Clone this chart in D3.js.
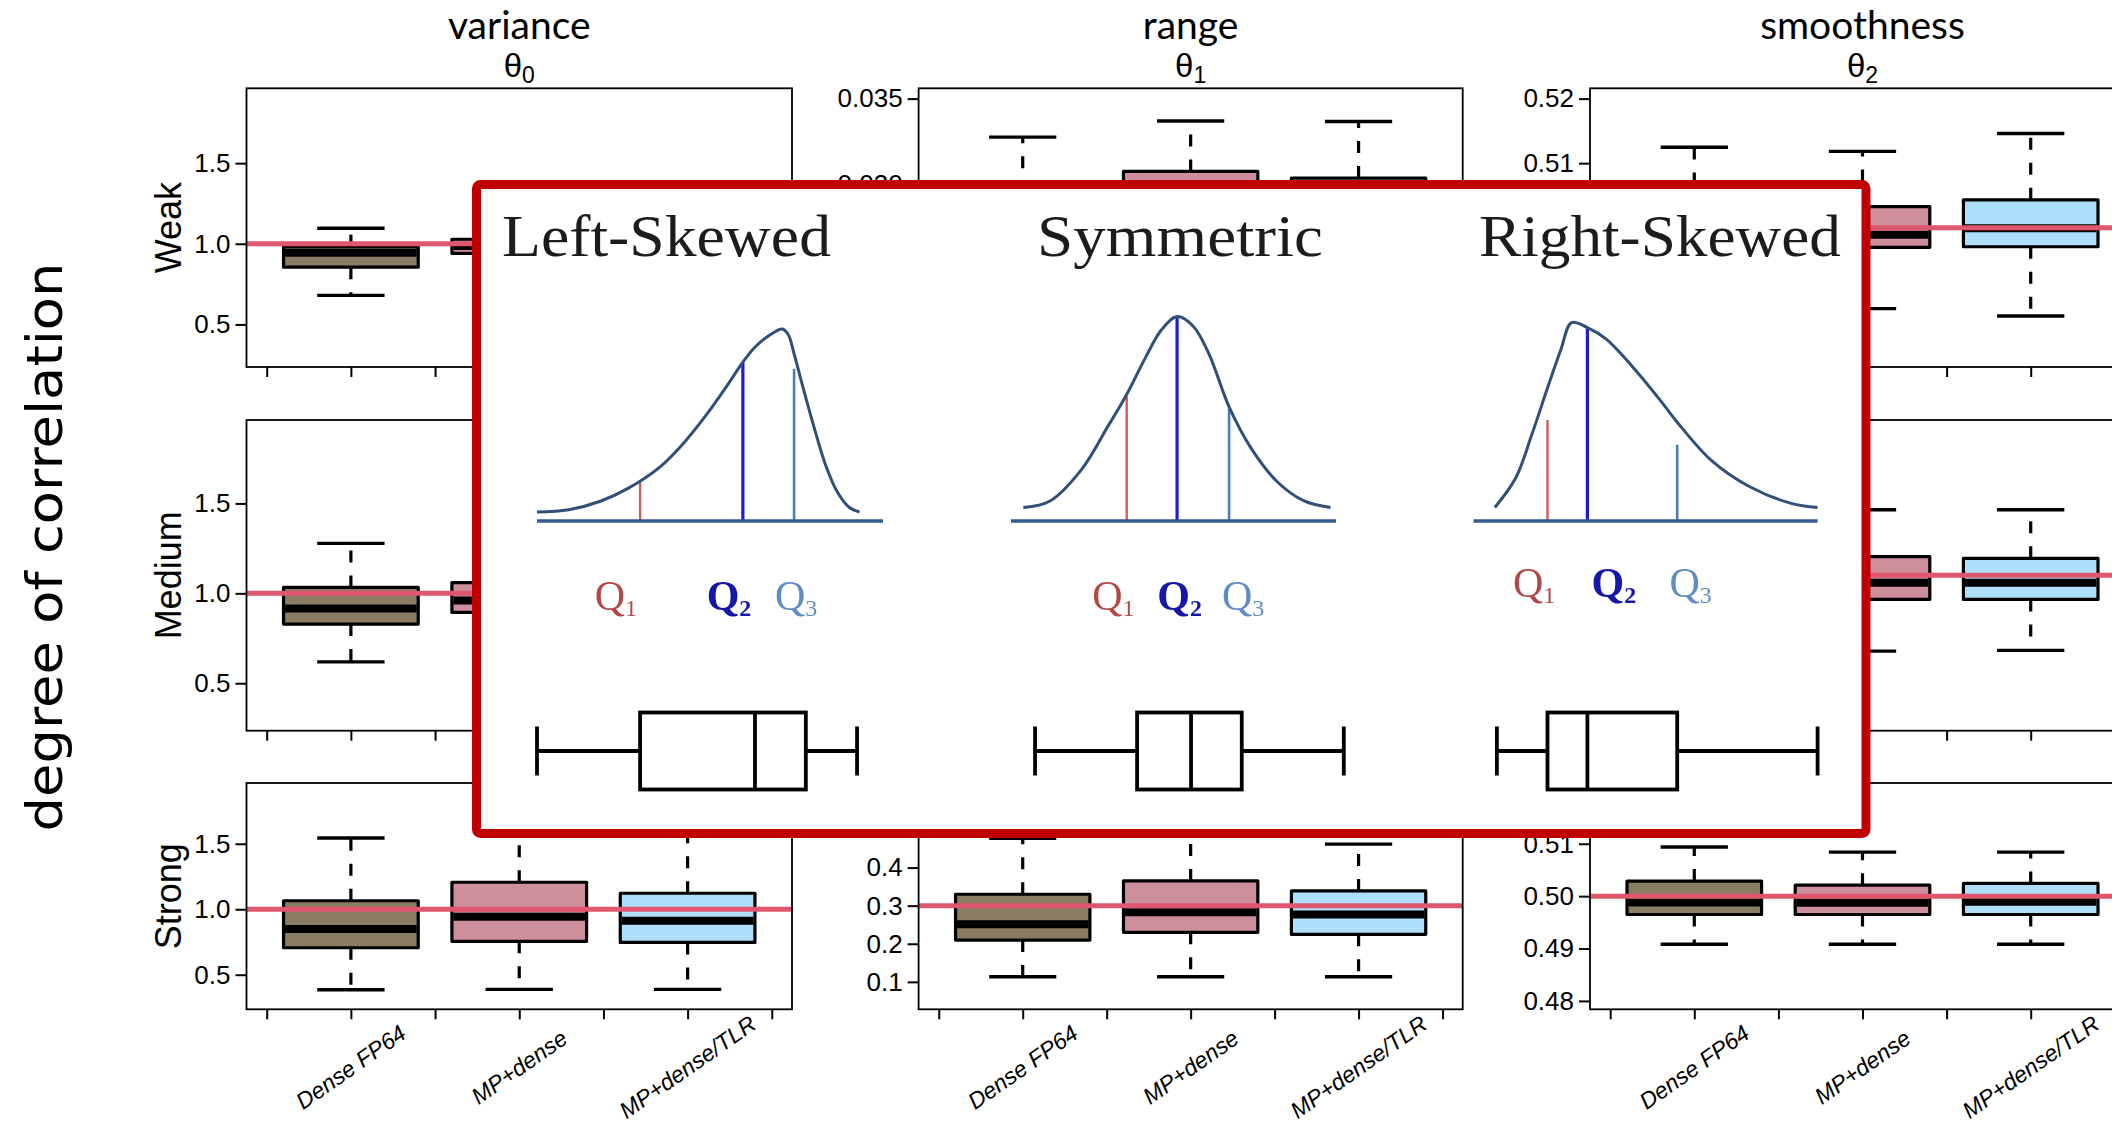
<!DOCTYPE html>
<html>
<head>
<meta charset="utf-8">
<script src="https://cdn.jsdelivr.net/npm/d3@7"></script>
<style>
  html, body { margin: 0; padding: 0; background: #fff; }
  svg { display: block; }
</style>
</head>
<body>
<svg id="chart" width="2112" height="1126"></svg>
<script>
// ---------------------------------------------------------------------------
// Data
// ---------------------------------------------------------------------------
const methods = ["Dense FP64", "MP+dense", "MP+dense/TLR"];
const methodFill = ["#8B7D64", "#CD8F9B", "#ADDFFB"];
const correlationLevels = ["Weak", "Medium", "Strong"];
const parameterNames = ["variance", "range", "smoothness"];
const parameterIndex = ["0", "1", "2"];

// True parameter values (horizontal reference lines), one per correlation level
const trueVariance = [1.0, 1.0, 1.0];
const trueRange = [0.03, 0.1, 0.3];
const trueSmoothness = [0.5, 0.5, 0.5];

// y limits of each panel (before the usual 4% padding)
const varianceLimits = [[0.3, 1.9], [0.3, 1.9], [0.3, 1.9]];
const rangeLimits = [[0.02, 0.035], [0.06, 0.14], [0.05, 0.6]];
const smoothnessLimits = [[0.48, 0.52], [0.48, 0.52], [0.48, 0.52]];

// y tick labels
const varianceTickLabels = [["0.5", "1.0", "1.5"], ["0.5", "1.0", "1.5"], ["0.5", "1.0", "1.5"]];
const rangeTickLabels = [["0.020", "0.025", "0.030", "0.035"], ["0.08", "0.10", "0.12", "0.14"], ["0.1", "0.2", "0.3", "0.4", "0.5"]];
const smoothnessTickLabels = [
  ["0.48", "0.49", "0.50", "0.51", "0.52"],
  ["0.48", "0.49", "0.50", "0.51", "0.52"],
  ["0.48", "0.49", "0.50", "0.51", "0.52"]
];

// Box summaries per method: [lower whisker, Q1, median, Q3, upper whisker]
const varianceWeak   = [[0.68, 0.855, 0.945, 0.982, 1.096], [0.80, 0.941, 0.986, 1.028, 1.17], [0.79, 0.935, 0.975, 1.02, 1.16]];
const varianceMedium = [[0.619, 0.829, 0.916, 1.033, 1.278], [0.70, 0.894, 0.96, 1.059, 1.30], [0.70, 0.89, 0.955, 1.05, 1.29]];
const varianceStrong = [[0.385, 0.706, 0.850, 1.065, 1.544], [0.388, 0.755, 0.943, 1.206, 1.72], [0.388, 0.747, 0.912, 1.122, 1.62]];

const rangeWeak   = [[0.0215, 0.0262, 0.0279, 0.0295, 0.03276], [0.0218, 0.0268, 0.0290, 0.03077, 0.0337], [0.0218, 0.0266, 0.0288, 0.03038, 0.03367]];
const rangeMedium = [[0.068, 0.086, 0.094, 0.104, 0.128], [0.070, 0.089, 0.099, 0.109, 0.133], [0.070, 0.088, 0.098, 0.108, 0.132]];
const rangeStrong = [[0.1134, 0.2097, 0.251, 0.330, 0.477], [0.1134, 0.230, 0.2826, 0.365, 0.55], [0.1134, 0.2247, 0.277, 0.3387, 0.4616]];

const smoothnessWeak   = [[0.4878, 0.4967, 0.4995, 0.5028, 0.51246], [0.48745, 0.49695, 0.4989, 0.50327, 0.51183], [0.4863, 0.49704, 0.4999, 0.50431, 0.51459]];
const smoothnessMedium = [[0.4895, 0.4966, 0.4990, 0.5027, 0.5095], [0.48947, 0.49665, 0.49897, 0.5026, 0.50912], [0.48957, 0.49665, 0.49897, 0.50237, 0.50912]];
const smoothnessStrong = [[0.49082, 0.4965, 0.4988, 0.50287, 0.50937], [0.49082, 0.4965, 0.49874, 0.5021, 0.50841], [0.49082, 0.4965, 0.49893, 0.50243, 0.50841]];

// Skewness explainer: density outlines as [position, relative height]
const shapeTitles = ["Left-Skewed", "Symmetric", "Right-Skewed"];
const leftSkewCurve = [[0.0, 0.047], [0.92, 0.059], [1.83, 0.103], [2.63, 0.170], [3.55, 0.281], [4.23, 0.404],
  [4.92, 0.559], [5.49, 0.704], [5.95, 0.827], [6.29, 0.904], [6.75, 0.971], [7.09, 1.0], [7.26, 0.971],
  [7.43, 0.871], [7.66, 0.715], [8.0, 0.493], [8.34, 0.292], [8.69, 0.148], [9.03, 0.070], [9.32, 0.047]];
const symmetricCurve = [[0.38, 0.066], [1.2, 0.098], [2.18, 0.254], [2.98, 0.463], [3.56, 0.619], [4.13, 0.797],
  [4.62, 0.933], [5.11, 1.0], [5.6, 0.954], [6.09, 0.818], [6.71, 0.558], [7.38, 0.358], [8.2, 0.191],
  [9.02, 0.098], [9.83, 0.066]];
const rightSkewCurve = [[0.62, 0.068], [1.23, 0.218], [1.69, 0.433], [2.15, 0.670], [2.54, 0.864], [2.85, 1.0],
  [3.31, 0.975], [3.85, 0.918], [4.62, 0.778], [5.39, 0.617], [5.92, 0.498], [6.92, 0.304], [8.0, 0.175],
  [9.23, 0.089], [10.0, 0.068]];
// Quartile markers [position, height] for Q1, Q2, Q3
const leftSkewQuartiles = [[2.98, 0.203], [5.95, 0.823], [7.43, 0.793]];
const symmetricQuartiles = [[3.56, 0.609], [5.11, 1.0], [6.71, 0.548]];
const rightSkewQuartiles = [[2.15, 0.509], [3.31, 0.973], [5.92, 0.384]];
// Where the Q1/Q2/Q3 captions sit along each axis
const leftSkewLabelX = [2.28, 5.55, 7.49];
const symmetricLabelX = [3.15, 5.19, 7.14];
const rightSkewLabelX = [1.76, 4.08, 6.31];
// Box-and-whisker summaries [min, Q1, median, Q3, max]
const leftSkewBox = [0.0, 2.98, 6.3, 7.77, 9.25];
const symmetricBox = [0.74, 3.88, 5.54, 7.1, 10.24];
const rightSkewBox = [0.68, 2.15, 3.31, 5.92, 10.0];

// ---------------------------------------------------------------------------
// Layout
// ---------------------------------------------------------------------------
const rowBox = [{ top: 88.3, bottom: 367 }, { top: 420, bottom: 730.7 }, { top: 783, bottom: 1009.3 }];
const colBox = [{ left: 246.5, right: 792 }, { left: 918.6, right: 1462.7 }, { left: 1590, right: 2135 }];
const xLimits = [0.5, 3.5];
const boxWidth = 0.8, capWidth = 0.4;
const inset = { left: 476.5, top: 184.5, right: 1866, bottom: 833.5 };

const panels = [
  { stats: [varianceWeak, varianceMedium, varianceStrong], truth: trueVariance, lim: varianceLimits, ticks: varianceTickLabels },
  { stats: [rangeWeak, rangeMedium, rangeStrong], truth: trueRange, lim: rangeLimits, ticks: rangeTickLabels },
  { stats: [smoothnessWeak, smoothnessMedium, smoothnessStrong], truth: trueSmoothness, lim: smoothnessLimits, ticks: smoothnessTickLabels }
];

const svg = d3.select("#chart");
svg.append("rect").attr("width", 2112).attr("height", 1126).attr("fill", "#fff");

const sans = "'Liberation Sans', Arial, sans-serif";

function padded(lim) {
  const p = (lim[1] - lim[0]) * 0.04;
  return [lim[0] - p, lim[1] + p];
}

// true when a tick label sits completely underneath the explainer panel
function coveredByInset(px, py) {
  return px > inset.left && px < inset.right && py - 11 > inset.top + 5 && py + 11 < inset.bottom - 5;
}

function drawPanel(r, c) {
  const spec = panels[c];
  const { top, bottom } = rowBox[r];
  const { left, right } = colBox[c];
  const stats = spec.stats[r];
  const x = d3.scaleLinear().domain(padded(xLimits)).range([left, right]);
  const y = d3.scaleLinear().domain(padded(spec.lim[r])).range([bottom, top]);
  const g = svg.append("g");

  // y axis
  const labels = spec.ticks[r];
  const yAxis = d3.axisLeft(y)
    .tickValues(labels.map(Number))
    .tickFormat((d, i) => labels[i])
    .tickSize(11).tickPadding(5);
  const ya = g.append("g").attr("transform", `translate(${left},0)`).call(yAxis);
  ya.select(".domain").remove();
  ya.selectAll(".tick line").attr("stroke", "#000").attr("stroke-width", 2);
  ya.selectAll(".tick text").attr("font-family", sans).attr("font-size", 26).attr("fill", "#000");
  ya.selectAll(".tick text").filter(d => coveredByInset(left - 30, y(d))).remove();

  // x axis ticks at box centres and between boxes
  const xAxis = d3.axisBottom(x).tickValues(d3.range(0.5, 3.51, 0.5)).tickFormat("").tickSize(10);
  const xa = g.append("g").attr("transform", `translate(0,${bottom})`).call(xAxis);
  xa.select(".domain").remove();
  xa.selectAll(".tick line").attr("stroke", "#000").attr("stroke-width", 2);

  // boxes
  const boxes = g.selectAll(".box").data(stats).join("g").attr("class", "box");
  boxes.each(function (s, i) {
    const b = d3.select(this);
    const cx = x(i + 1);
    // whiskers
    b.append("line").attr("x1", cx).attr("x2", cx).attr("y1", y(s[3])).attr("y2", y(s[4]))
      .attr("stroke", "#000").attr("stroke-width", 3.2).attr("stroke-dasharray", "12 13");
    b.append("line").attr("x1", cx).attr("x2", cx).attr("y1", y(s[1])).attr("y2", y(s[0]))
      .attr("stroke", "#000").attr("stroke-width", 3.2).attr("stroke-dasharray", "12 13");
    // staples
    [s[0], s[4]].forEach(v => {
      b.append("line").attr("x1", x(i + 1 - capWidth / 2)).attr("x2", x(i + 1 + capWidth / 2))
        .attr("y1", y(v)).attr("y2", y(v)).attr("stroke", "#000").attr("stroke-width", 3.4);
    });
    // box
    b.append("rect")
      .attr("x", x(i + 1 - boxWidth / 2)).attr("width", x(i + 1 + boxWidth / 2) - x(i + 1 - boxWidth / 2))
      .attr("y", y(s[3])).attr("height", y(s[1]) - y(s[3]))
      .attr("fill", methodFill[i]).attr("stroke", "#000").attr("stroke-width", 3.2)
      .attr("stroke-linejoin", "round");
    // median
    b.append("line").attr("x1", x(i + 1 - boxWidth / 2) + 1.5).attr("x2", x(i + 1 + boxWidth / 2) - 1.5)
      .attr("y1", y(s[2])).attr("y2", y(s[2])).attr("stroke", "#000").attr("stroke-width", 8);
  });

  // true value
  g.append("line").attr("x1", left).attr("x2", right)
    .attr("y1", y(spec.truth[r])).attr("y2", y(spec.truth[r]))
    .attr("stroke", "#E0566E").attr("stroke-width", 5);

  // frame
  g.append("rect").attr("x", left).attr("y", top).attr("width", right - left).attr("height", bottom - top)
    .attr("fill", "none").attr("stroke", "#000").attr("stroke-width", 1.8);

  // method labels under the last row
  if (r === 2) {
    g.selectAll(".mlabel").data(methods).join("text")
      .attr("class", "mlabel")
      .attr("transform", (d, i) => `translate(${x(i + 1)},1067) rotate(-35)`)
      .attr("text-anchor", "middle").attr("dominant-baseline", "central")
      .attr("font-family", sans).attr("font-style", "italic").attr("font-size", 23)
      .text(d => d);
  }
}

for (let r = 0; r < 3; r++) for (let c = 0; c < 3; c++) drawPanel(r, c);

// column titles
parameterNames.forEach((name, c) => {
  const cx = (colBox[c].left + colBox[c].right) / 2;
  svg.append("text").attr("x", cx).attr("y", 39).attr("text-anchor", "middle")
    .attr("font-family", "Lato, 'Open Sans', sans-serif").attr("font-size", 39).text(name);
  const t = svg.append("text").attr("x", cx).attr("y", 77).attr("text-anchor", "middle")
    .attr("font-family", sans).attr("font-size", 33);
  t.append("tspan").text("θ");
  t.append("tspan").attr("font-size", 23).attr("dy", 6).text(parameterIndex[c]);
});

// row labels
correlationLevels.forEach((lvl, r) => {
  const cy = (rowBox[r].top + rowBox[r].bottom) / 2;
  svg.append("text").attr("transform", `translate(181,${cy}) rotate(-90)`)
    .attr("text-anchor", "middle").attr("font-family", sans).attr("font-size", 36).text(lvl);
});

svg.append("text").attr("transform", "translate(45,547) rotate(-90)")
  .attr("text-anchor", "middle").attr("dominant-baseline", "central")
  .attr("font-family", "'DejaVu Sans', sans-serif").attr("font-size", 50)
  .attr("textLength", 569).attr("lengthAdjust", "spacingAndGlyphs")
  .text("degree of correlation");

// ---------------------------------------------------------------------------
// Skewness explainer panel
// ---------------------------------------------------------------------------
const shapeFrames = [
  { x0: 537, x1: 883, peak: 329, titleX: 666.5, titleLen: 329, labelBase: 610 },
  { x0: 1011, x1: 1336, peak: 316.6, titleX: 1180, titleLen: 286, labelBase: 610 },
  { x0: 1473.5, x1: 1817.6, peak: 322.6, titleX: 1660, titleLen: 362, labelBase: 597 }
];
const axisY = 521, titleBase = 255.5, boxMid = 751, boxHalf = 38.5, capHalf = 24.5;
const curves = [leftSkewCurve, symmetricCurve, rightSkewCurve];
const quartiles = [leftSkewQuartiles, symmetricQuartiles, rightSkewQuartiles];
const labelXs = [leftSkewLabelX, symmetricLabelX, rightSkewLabelX];
const boxStats = [leftSkewBox, symmetricBox, rightSkewBox];
const qLineColor = ["#CC5E5A", "#1A1AD0", "#4A7DB8"];
const qLineWidth = [2.4, 3.2, 2.6];
const qTextColor = ["#B04A47", "#1414A8", "#5F8CC2"];
const qWeight = ["normal", "bold", "normal"];
const serif = "'Liberation Serif', 'Times New Roman', serif";

const defs = svg.append("defs");
defs.append("filter").attr("id", "soft").attr("x", "-5%").attr("y", "-5%").attr("width", "110%").attr("height", "110%")
  .append("feGaussianBlur").attr("stdDeviation", 0.6);

svg.append("rect")
  .attr("x", inset.left).attr("y", inset.top)
  .attr("width", inset.right - inset.left).attr("height", inset.bottom - inset.top)
  .attr("fill", "#fff");

const content = svg.append("g").attr("filter", "url(#soft)");

shapeFrames.forEach((f, k) => {
  const sx = d3.scaleLinear().domain([0, 10]).range([f.x0, f.x1]);
  const sy = d3.scaleLinear().domain([0, 1]).range([axisY, f.peak]);
  const g = content.append("g");

  g.append("text").attr("x", f.titleX).attr("y", titleBase).attr("text-anchor", "middle")
    .attr("font-family", serif).attr("font-size", 60).attr("fill", "#1c1c1c")
    .attr("textLength", f.titleLen).attr("lengthAdjust", "spacingAndGlyphs")
    .text(shapeTitles[k]);

  // quartile markers
  quartiles[k].forEach((q, i) => {
    g.append("line").attr("x1", sx(q[0])).attr("x2", sx(q[0])).attr("y1", axisY).attr("y2", sy(q[1]))
      .attr("stroke", qLineColor[i]).attr("stroke-width", qLineWidth[i]);
  });

  // axis line
  g.append("line").attr("x1", sx(0)).attr("x2", sx(10)).attr("y1", axisY).attr("y2", axisY)
    .attr("stroke", "#365B8E").attr("stroke-width", 3.4);

  // density outline
  const line = d3.line().x(d => sx(d[0])).y(d => sy(d[1])).curve(d3.curveCatmullRom.alpha(0.5));
  g.append("path").attr("d", line(curves[k])).attr("fill", "none")
    .attr("stroke", "#31507A").attr("stroke-width", 3);

  // Q captions
  labelXs[k].forEach((lx, i) => {
    const t = g.append("text").attr("x", sx(lx)).attr("y", f.labelBase).attr("text-anchor", "middle")
      .attr("font-family", serif).attr("font-size", 42).attr("font-weight", qWeight[i]).attr("fill", qTextColor[i]);
    t.append("tspan").text("Q");
    t.append("tspan").attr("font-size", 24).attr("dy", 6).text(String(i + 1));
  });

  // box-and-whisker
  const s = boxStats[k];
  const bx = g.append("g").attr("stroke", "#000").attr("stroke-width", 3.8).attr("fill", "none");
  bx.append("line").attr("x1", sx(s[0])).attr("x2", sx(s[1])).attr("y1", boxMid).attr("y2", boxMid);
  bx.append("line").attr("x1", sx(s[3])).attr("x2", sx(s[4])).attr("y1", boxMid).attr("y2", boxMid);
  [s[0], s[4]].forEach(v => bx.append("line").attr("x1", sx(v)).attr("x2", sx(v))
    .attr("y1", boxMid - capHalf).attr("y2", boxMid + capHalf));
  bx.append("rect").attr("x", sx(s[1])).attr("width", sx(s[3]) - sx(s[1]))
    .attr("y", boxMid - boxHalf).attr("height", boxHalf * 2);
  bx.append("line").attr("x1", sx(s[2])).attr("x2", sx(s[2]))
    .attr("y1", boxMid - boxHalf).attr("y2", boxMid + boxHalf);
});

// red outline
svg.append("rect")
  .attr("x", inset.left).attr("y", inset.top)
  .attr("width", inset.right - inset.left).attr("height", inset.bottom - inset.top)
  .attr("rx", 4).attr("fill", "none").attr("stroke", "#C00000").attr("stroke-width", 9);
</script>
</body>
</html>
